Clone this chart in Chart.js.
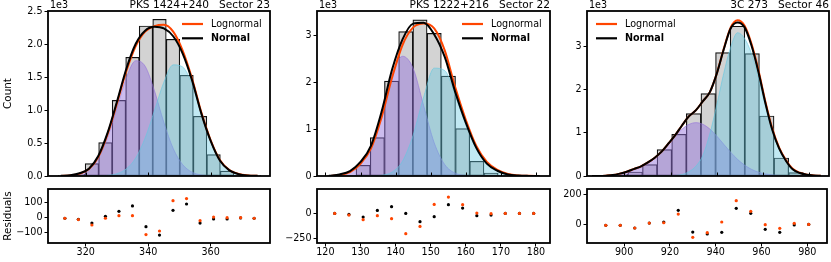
<!DOCTYPE html>
<html>
<head>
<meta charset="utf-8">
<script src="https://cdn.jsdelivr.net/npm/chart.js"></script>
<style>
  body { margin: 0; background: #fff; }
  #wrap { position: relative; width: 831px; height: 262px; overflow: hidden; }
  canvas { position: absolute; }
</style>
</head>
<body>
<div id="wrap">
  <canvas id="r1" width="278" height="82" style="left:0;top:180px"></canvas>
  <canvas id="r2" width="278" height="82" style="left:278px;top:180px"></canvas>
  <canvas id="r3" width="275" height="82" style="left:556px;top:180px"></canvas>
  <canvas id="m1" width="278" height="184" style="left:0;top:0"></canvas>
  <canvas id="m2" width="278" height="184" style="left:278px;top:0"></canvas>
  <canvas id="m3" width="275" height="184" style="left:556px;top:0"></canvas>
</div>
<script>
// ---- PKS 1424+240, Sector 23
const p1Bins = [313.30, 317.63, 321.96, 326.29, 330.62, 334.95, 339.28, 343.61, 347.94, 352.27, 356.60, 360.93, 365.26, 369.59, 373.92];
const p1Counts = [3, 25, 188, 508, 1153, 1809, 2287, 2388, 2083, 1535, 910, 325, 76, 10, 2];
const p1CurveX = [312, 315, 318, 321, 324, 327, 330, 333, 336, 339, 342, 345, 348, 351, 354, 357, 360, 363, 366, 369, 372, 375];
const p1Normal = [2, 12, 42, 112, 305, 660, 1135, 1635, 2015, 2215, 2275, 2250, 2130, 1870, 1465, 955, 535, 232, 85, 27, 7, 2];
const p1Lognormal = [1, 9, 36, 105, 290, 640, 1110, 1600, 1980, 2200, 2285, 2305, 2200, 1915, 1490, 970, 545, 240, 90, 30, 9, 2];
const p1Low = [2, 8, 31, 101, 270, 588, 1041, 1499, 1757, 1674, 1298, 818, 419, 175, 59, 16, 4, 1, 0, 0, 0, 0];
const p1High = [0, 0, 0, 0, 2, 10, 36, 109, 275, 577, 997, 1429, 1694, 1663, 1400, 935, 530, 230, 84, 27, 7, 2];
const p1ResNormal = [-4, -11, -36, 9, 42, 78, -60, -116, 49, 91, -36, -9, -9, -2, -4];
const p1ResLognormal = [-4, -13, -49, -4, 13, 13, -113, -89, 113, 127, -20, 4, 0, 0, -4];
const p1XTicks = [320, 340, 360];
const p1YTicks = [0, 500, 1000, 1500, 2000, 2500];
const p1ResTicks = [-100, 0, 100];

// ---- PKS 1222+216, Sector 22
const p2Bins = [122.65, 126.70, 130.75, 134.80, 138.85, 142.90, 146.95, 151.00, 155.05, 159.10, 163.15, 167.20, 171.25, 175.30, 179.35];
const p2Counts = [1, 10, 228, 820, 2024, 3079, 3329, 3043, 2131, 1012, 314, 64, 8, 1, 0];
const p2CurveX = [121, 124, 127, 130, 133, 136, 139, 142, 145, 148, 151, 154, 157, 160, 163, 166, 169, 172, 175, 178, 181];
const p2Normal = [3, 33, 105, 300, 650, 1370, 2270, 2920, 3250, 3270, 3020, 2540, 1790, 1140, 600, 264, 112, 33, 9, 2, 0];
const p2Lognormal = [2, 22, 85, 260, 590, 1250, 2100, 2800, 3170, 3255, 3150, 2680, 1890, 1200, 640, 300, 130, 45, 12, 3, 1];
const p2Low = [3, 33, 103, 295, 640, 1340, 2170, 2555, 2296, 1498, 709, 244, 61, 11, 2, 0, 0, 0, 0, 0, 0];
const p2High = [0, 0, 0, 0, 2, 15, 83, 320, 873, 1686, 2301, 2250, 1720, 1100, 580, 255, 105, 30, 8, 2, 0];
const p2ResNormal = [0, -10, -37, 30, 67, 0, -83, -33, 87, 53, -23, -17, 0, 0, 0];
const p2ResLognormal = [0, -17, -63, -23, -53, -203, -130, 90, 163, 87, 3, -3, 0, 0, 0];
const p2XTicks = [120, 130, 140, 150, 160, 170, 180];
const p2YTicks = [0, 1000, 2000, 3000];
const p2ResTicks = [-250, 0];

// ---- 3C 273, Sector 46
const p3Bins = [892.00, 898.33, 904.66, 910.99, 917.32, 923.65, 929.98, 936.31, 942.64, 948.97, 955.30, 961.63, 967.96, 974.29, 980.62];
const p3Counts = [3, 39, 93, 264, 612, 969, 1450, 1915, 2868, 3481, 2845, 1395, 419, 78, 12];
const p3CurveX = [886, 889, 892, 895, 898, 901, 904, 907, 910, 913, 916, 919, 922, 925, 928, 931, 934, 937, 940, 943, 946, 949, 952, 955, 958, 961, 964, 967, 970, 973, 976, 979, 982, 985];
const p3Normal = [0, 1, 8, 21, 55, 100, 160, 220, 310, 420, 560, 750, 950, 1180, 1390, 1530, 1740, 1950, 2380, 2940, 3430, 3570, 3460, 3040, 2430, 1710, 1080, 640, 350, 150, 70, 30, 12, 4];
const p3Lognormal = [0, 1, 8, 21, 55, 100, 160, 220, 310, 420, 560, 750, 950, 1180, 1390, 1530, 1740, 1950, 2380, 2950, 3450, 3620, 3500, 3080, 2470, 1740, 1110, 660, 365, 160, 75, 31, 13, 4];
const p3Low = [1, 2, 5, 18, 45, 85, 140, 200, 285, 400, 553, 739, 927, 1090, 1200, 1240, 1200, 1090, 927, 739, 553, 387, 254, 156, 90, 49, 25, 12, 5, 2, 1, 0, 0, 0];
const p3High = [0, 0, 0, 0, 0, 0, 0, 0, 0, 0, 0, 3, 11, 36, 100, 230, 480, 980, 1650, 2380, 2990, 3330, 3200, 2850, 2300, 1630, 1040, 620, 340, 150, 70, 29, 12, 4];
const p3ResNormal = [-4, -4, -22, 11, 18, 96, -49, -62, -51, 109, 76, -31, -51, -2, 2];
const p3ResLognormal = [-4, -4, -22, 11, 13, 71, -84, -53, 18, 160, 89, 0, -24, 9, 2];
const p3XTicks = [900, 920, 940, 960, 980];
const p3YTicks = [0, 1000, 2000, 3000];
const p3ResTicks = [0, 200];

const ORANGE = '#ff4500';
Chart.defaults.font.family = "'DejaVu Sans', sans-serif";
Chart.defaults.font.size = 9.6;
Chart.defaults.color = '#000';

const pts = (xs, ys) => xs.map((x, i) => ({ x: x, y: ys[i] }));
const minus = v => (v < 0 ? '\u2212' + Math.abs(v) : String(v));
const setTicks = vals => s => { s.ticks = vals.map(v => ({ value: v })); };

// frame, inward ticks, title text, legend
const decor = {
  id: 'decor',
  afterDraw(chart, args, o) {
    const ctx = chart.ctx, a = chart.chartArea;
    ctx.save();
    if (o.inTicks) {
      const sx = chart.scales.x;
      ctx.strokeStyle = '#000';
      ctx.lineWidth = 1;
      sx.ticks.forEach(t => {
        const px = Math.round(sx.getPixelForValue(t.value)) + 0.5;
        ctx.beginPath();
        ctx.moveTo(px, a.bottom);
        ctx.lineTo(px, a.bottom - 3.5);
        ctx.stroke();
      });
    }
    ctx.strokeStyle = '#000';
    ctx.lineWidth = 1.8;
    ctx.strokeRect(a.left, a.top, a.right - a.left, a.bottom - a.top);

    if (o.title) {
      ctx.fillStyle = '#000';
      ctx.textBaseline = 'alphabetic';
      ctx.font = "10.6px 'DejaVu Sans'";
      ctx.textAlign = 'right';
      ctx.fillText(o.title, a.right, 8);
      ctx.font = "9.6px 'DejaVu Sans'";
      ctx.textAlign = 'left';
      ctx.fillText('1e3', a.left + 2, 8);
    }
    if (o.legend) {
      const x0 = o.legend === 'left' ? a.left + 9 : a.right - 88;
      const rows = [['Lognormal', ORANGE, ''], ['Normal', '#000', 'bold ']];
      rows.forEach((r, i) => {
        const y = 24 + i * 14.3;
        ctx.strokeStyle = r[1];
        ctx.lineWidth = 2.2;
        ctx.beginPath();
        ctx.moveTo(x0, y);
        ctx.lineTo(x0 + 21, y);
        ctx.stroke();
        ctx.fillStyle = '#000';
        ctx.font = r[2] + "9.6px 'DejaVu Sans'";
        ctx.textAlign = 'left';
        ctx.textBaseline = 'middle';
        ctx.fillText(r[0], x0 + 29, y);
      });
    }
    ctx.restore();
  }
};

const tickGrid = { display: true, drawOnChartArea: false, drawTicks: true, tickLength: 3.5, color: '#000', lineWidth: 1 };

function mainChart(id, c) {
  const curve = (ys, extra) => Object.assign({
    type: 'line', data: pts(c.curveX, ys), pointRadius: 0,
    cubicInterpolationMode: 'monotone', fill: false
  }, extra);
  return new Chart(document.getElementById(id), {
    type: 'bar',
    data: {
      datasets: [
        { type: 'bar', data: pts(c.bins, c.counts), backgroundColor: '#d3d3d3', borderColor: '#111',
          borderWidth: 1.2, borderSkipped: false, barPercentage: 1, categoryPercentage: 1, order: 5 },
        curve(c.low, { fill: 'origin', backgroundColor: 'rgba(147,112,219,0.47)',
          borderColor: 'rgba(147,112,219,0.6)', borderWidth: 1, order: 4 }),
        curve(c.high, { fill: 'origin', backgroundColor: 'rgba(100,200,225,0.4)',
          borderColor: 'rgba(100,200,225,0.6)', borderWidth: 1, order: 3 }),
        curve(c.lognormal, { label: 'Lognormal', borderColor: ORANGE, borderWidth: 2, order: 2 }),
        curve(c.normal, { label: 'Normal', borderColor: '#000', borderWidth: 2, order: 1 })
      ]
    },
    options: {
      responsive: false, animation: false, events: [],
      layout: { padding: { top: 11, right: c.padRight, left: 0, bottom: 0 } },
      scales: {
        x: { type: 'linear', offset: false, min: c.xMin, max: c.xMax,
          afterBuildTicks: setTicks(c.xTicks), ticks: { display: false },
          grid: { display: false }, border: { display: false },
          afterFit: s => { s.height = 8; } },
        y: { min: 0, max: c.yMax, afterBuildTicks: setTicks(c.yTicks),
          ticks: { padding: 2, callback: c.yFmt }, grid: tickGrid, border: { display: false },
          title: { display: !!c.yTitle, text: c.yTitle, font: { size: 10.4 }, padding: { top: 2, bottom: 0 } },
          afterFit: s => { s.width = c.yWidth; } }
      },
      plugins: { legend: { display: false }, tooltip: { enabled: false },
        decor: { inTicks: true, title: c.title, legend: c.legend } }
    },
    plugins: [decor]
  });
}

function residChart(id, c) {
  return new Chart(document.getElementById(id), {
    type: 'scatter',
    data: {
      datasets: [
        { label: 'Lognormal', data: pts(c.bins, c.resLog), backgroundColor: ORANGE, pointRadius: 1.6, borderWidth: 0, order: 1 },
        { label: 'Normal', data: pts(c.bins, c.resNorm), backgroundColor: '#000', pointRadius: 1.6, borderWidth: 0, order: 2 }
      ]
    },
    options: {
      responsive: false, animation: false, events: [],
      layout: { padding: { top: 9, right: c.padRight, left: 0, bottom: 0 } },
      scales: {
        x: { type: 'linear', min: c.xMin, max: c.xMax, afterBuildTicks: setTicks(c.xTicks),
          ticks: { padding: 0, callback: v => String(v) }, grid: tickGrid, border: { display: false },
          afterFit: s => { s.height = 19; } },
        y: { min: c.rMin, max: c.rMax, afterBuildTicks: setTicks(c.rTicks),
          ticks: { padding: 2, callback: minus }, grid: tickGrid, border: { display: false },
          title: { display: !!c.rTitle, text: c.rTitle, font: { size: 10.4 }, padding: { top: 2, bottom: 0 } },
          afterFit: s => { s.width = c.yWidth; } }
      },
      plugins: { legend: { display: false }, tooltip: { enabled: false }, decor: {} }
    },
    plugins: [decor]
  });
}

const panels = [
  { m: 'm1', r: 'r1', bins: p1Bins, counts: p1Counts, curveX: p1CurveX, normal: p1Normal, lognormal: p1Lognormal,
    low: p1Low, high: p1High, resNorm: p1ResNormal, resLog: p1ResLognormal, xTicks: p1XTicks, yTicks: p1YTicks,
    rTicks: p1ResTicks, xMin: 307.9, xMax: 379.0, yMax: 2515, rMin: -169, rMax: 191, yWidth: 48, padRight: 8,
    yFmt: v => (v / 1000).toFixed(1), title: 'PKS 1424+240   Sector 23', legend: 'right', yTitle: 'Count', rTitle: 'Residuals' },
  { m: 'm2', r: 'r2', bins: p2Bins, counts: p2Counts, curveX: p2CurveX, normal: p2Normal, lognormal: p2Lognormal,
    low: p2Low, high: p2High, resNorm: p2ResNormal, resLog: p2ResLognormal, xTicks: p2XTicks, yTicks: p2YTicks,
    rTicks: p2ResTicks, xMin: 117.6, xMax: 184.0, yMax: 3520, rMin: -296, rMax: 244, yWidth: 39, padRight: 6,
    yFmt: v => String(v / 1000), title: 'PKS 1222+216   Sector 22', legend: 'right' },
  { m: 'm3', r: 'r3', bins: p3Bins, counts: p3Counts, curveX: p3CurveX, normal: p3Normal, lognormal: p3Lognormal,
    low: p3Low, high: p3High, resNorm: p3ResNormal, resLog: p3ResLognormal, xTicks: p3XTicks, yTicks: p3YTicks,
    rTicks: p3ResTicks, xMin: 883.8, xMax: 988.6, yMax: 3835, rMin: -122, rMax: 238, yWidth: 31, padRight: 2,
    yFmt: v => String(v / 1000), title: '3C 273   Sector 46', legend: 'left' }
];

panels.forEach(p => {
  mainChart(p.m, p);
  residChart(p.r, p);
});
</script>
</body>
</html>
